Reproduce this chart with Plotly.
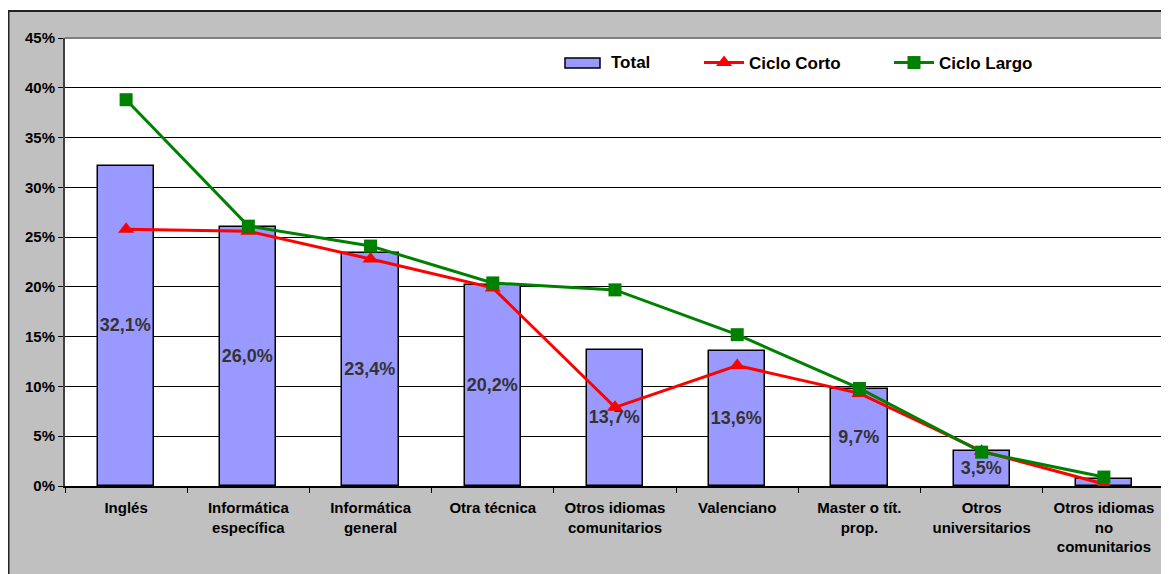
import plotly.graph_objects as go

categories = ["Inglés", "Informática<br>específica", "Informática<br>general", "Otra técnica",
              "Otros idiomas<br>comunitarios", "Valenciano", "Master o tít.<br>prop.",
              "Otros<br>universitarios", "Otros idiomas<br>no<br>comunitarios"]
total = [32.1, 26.0, 23.4, 20.2, 13.7, 13.6, 9.7, 3.5, 0.7]
total_labels = ["32,1%", "26,0%", "23,4%", "20,2%", "13,7%", "13,6%", "9,7%", "3,5%", ""]
ciclo_corto = [25.8, 25.6, 22.8, 19.9, 7.9, 12.1, 9.3, 3.5, 0.2]
ciclo_largo = [38.8, 26.1, 24.1, 20.4, 19.7, 15.2, 9.8, 3.4, 0.9]

FONT = "Arial, 'Liberation Sans', sans-serif"
# page body has an 8px margin; figure coords = page coords - 8
W, H = 1161, 566
L, R, T, B = 57, 4, 30, 88
pw, ph = W - L - R, H - T - B

def px(x):
    return (x - L) / pw

def py(y):
    return (H - B - y) / ph

fig = go.Figure()
fig.add_trace(go.Bar(
    x=categories, y=total, name="Total", width=0.46,
    marker=dict(color="#9999FF", line=dict(color="#000000", width=1.5)),
    text=total_labels, textposition="inside", insidetextanchor="middle",
    textangle=0, constraintext="none",
    textfont=dict(family=FONT, size=18, color="#333333", weight="bold"),
    showlegend=False,
))
fig.add_trace(go.Scatter(
    x=categories, y=ciclo_corto, name="Ciclo Corto", mode="lines+markers",
    line=dict(color="#FF0000", width=3),
    marker=dict(symbol="triangle-up", size=14, color="#FF0000"),
    showlegend=True, legend="legend2",
))
fig.add_trace(go.Scatter(
    x=categories, y=ciclo_largo, name="Ciclo Largo", mode="lines+markers",
    line=dict(color="#008000", width=3),
    marker=dict(symbol="square", size=13, color="#008000"),
    showlegend=True, legend="legend3",
))

legfont = dict(family=FONT, size=17, color="#000000", weight="bold")
def leg(x):
    return dict(x=px(x), y=py(55), xanchor="left", yanchor="middle",
                orientation="h", bgcolor="rgba(0,0,0,0)", font=legfont,
                itemwidth=40, tracegroupgap=0, visible=True)

shapes = [
    dict(type="rect", xref="paper", yref="paper", x0=px(0), x1=px(W), y0=py(0), y1=py(2),
         fillcolor="#FFFFFF", line=dict(width=0), layer="below"),
    dict(type="line", xref="paper", yref="paper", x0=px(0), x1=px(W), y0=py(3), y1=py(3),
         line=dict(color="#222222", width=2)),
    dict(type="line", xref="paper", yref="paper", x0=px(0.5), x1=px(0.5), y0=py(2), y1=py(H),
         line=dict(color="#222222", width=2)),
    dict(type="line", xref="paper", yref="paper", x0=0, x1=1, y0=1, y1=1,
         line=dict(color="#808080", width=2)),
    dict(type="line", xref="paper", yref="paper", x0=1, x1=1, y0=0, y1=1,
         line=dict(color="#808080", width=2)),
    # legend key for the "Total" bars
    dict(type="rect", xref="paper", yref="paper", x0=px(557), x1=px(592), y0=py(60), y1=py(50),
         fillcolor="#9999FF", line=dict(color="#000000", width=1.5)),
]

annotations = [
    dict(text="Total", xref="paper", yref="paper", x=px(601), y=py(55),
         xanchor="left", yanchor="middle", showarrow=False, font=legfont),
]

fig.update_layout(
    width=W, height=H,
    margin=dict(l=L, r=R, t=T, b=B, pad=0),
    paper_bgcolor="#C0C0C0", plot_bgcolor="#FFFFFF",
    font=dict(family=FONT, color="#000000"),
    bargap=0,
    showlegend=True,
    legend2=leg(691),
    legend3=leg(881),
    shapes=shapes,
    annotations=annotations,
    xaxis=dict(
        type="category", range=[-0.5, 8.5], tickson="boundaries",
        ticks="outside", ticklen=5, tickcolor="#000000",
        showline=True, linecolor="#000000", linewidth=2,
        showgrid=False, tickangle=0,
        tickfont=dict(family=FONT, size=15, color="#000000", weight="bold"),
        ticklabelstandoff=7,
    ),
    yaxis=dict(
        range=[0, 45], dtick=5, ticksuffix="%",
        ticks="outside", ticklen=5, tickcolor="#000000",
        showline=True, linecolor="#404040", linewidth=2,
        showgrid=True, gridcolor="#000000", gridwidth=1,
        zeroline=False,
        tickfont=dict(family=FONT, size=15, color="#000000", weight="bold"),
    ),
)

fig.write_html("out.html")
